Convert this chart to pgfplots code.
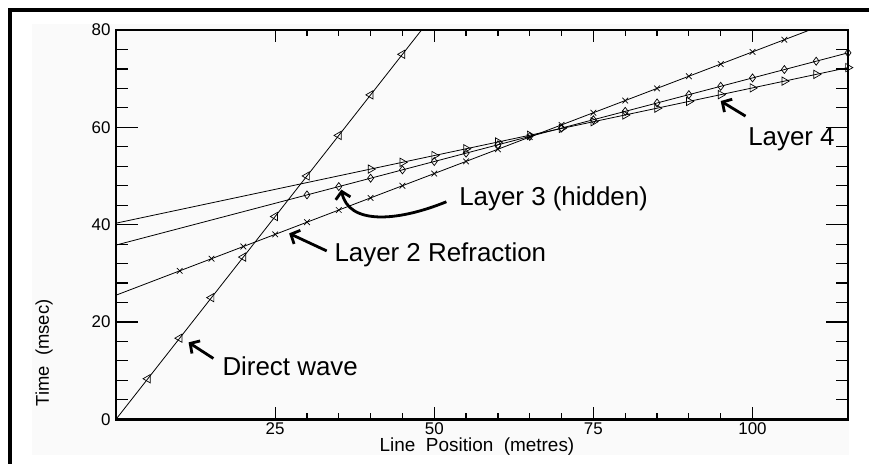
\documentclass[border=0pt]{standalone}
\usepackage{pgfplots}
\pgfplotsset{compat=1.18}
\usepackage{fontspec}
\setmainfont{Liberation Sans}
\usetikzlibrary{arrows.meta}
\begin{document}
\begin{tikzpicture}[x=1bp,y=1bp]
\path[use as bounding box] (0,0) rectangle (869,464);
\fill[black!2] (32,9) rectangle (849,440);
\draw[line width=3.5bp] (10,0) -- (10,454) -- (869,454);
\begin{axis}[
  at={(116bp,44.7bp)}, anchor=south west,
  scale only axis, width=732bp, height=389.3bp,
  xmin=0, xmax=115, ymin=0, ymax=80,
  axis line style={line width=2.5bp},
  xtick={25,50,75,100}, ytick={0,20,40,60,80},
  minor x tick num=4, minor y tick num=4,
  tick align=inside,
  tick style={black, line width=1.2bp},
  major tick length=22bp, minor tick length=12bp,
  xtick style={/pgfplots/major tick length=12bp, /pgfplots/minor tick length=6bp},
  tick label style={font=\fontsize{17}{17}\selectfont},
  /pgf/number format/assume math mode=true,
  yticklabel style={xshift=-2bp},
  xticklabel style={yshift=0bp},
  clip=true,
]
% Direct wave
\addplot[black, line width=0.8bp, no marks] coordinates {(0,0) (50,83.333)};
\addplot[black, only marks, mark=triangle, mark size=4.8bp, mark options={rotate=90, line width=0.7bp}] coordinates {
(5,8.333) (10,16.667) (15,25) (20,33.333) (25,41.667) (30,50) (35,58.333) (40,66.667) (45,75)};
% Layer 2
\addplot[black, line width=0.8bp, no marks] coordinates {(0,25.5) (115,83)};
\addplot[black, only marks, mark=x, mark size=4bp, mark options={line width=0.7bp}] coordinates {
(10,30.5) (15,33) (20,35.5) (25,38) (30,40.5) (35,43) (40,45.5) (45,48) (50,50.5) (55,53)
(60,55.5) (65,58) (70,60.5) (75,63) (80,65.5) (85,68) (90,70.5) (95,73) (100,75.5) (105,78)};
% Layer 3
\addplot[black, line width=0.8bp, no marks] coordinates {(0,35.8) (115,75.30)};
\addplot[black, only marks, mark=diamond, mark size=4bp, mark options={line width=0.7bp}] coordinates {
(30,46.11) (35,47.82) (40,49.54) (45,51.26) (50,52.98) (55,54.69) (60,56.41) (65,58.13) (70,59.85)
(75,61.56) (80,63.28) (85,65.00) (90,66.72) (95,68.43) (100,70.15) (105,71.87) (110,73.59) (115,75.30)};
% Layer 4
\addplot[black, line width=0.8bp, no marks] coordinates {(0,40.3) (115,72.27)};
\addplot[black, only marks, mark=triangle, mark size=4.8bp, mark options={rotate=-90, line width=0.7bp}] coordinates {
(40,51.42) (45,52.81) (50,54.20) (55,55.59) (60,56.98) (65,58.37) (70,59.76) (75,61.15)
(80,62.54) (85,63.93) (90,65.32) (95,66.71) (100,68.10) (105,69.49) (110,70.88) (115,72.27)};
% annotations
\node[anchor=base west, inner sep=0pt, font=\fontsize{26}{26}\selectfont] at (axis cs:16.7,9.1) {Direct wave};
\node[anchor=base west, inner sep=0pt, font=\fontsize{26}{26}\selectfont] at (axis cs:34.3,32.4) {Layer 2 Refraction};
\node[anchor=base west, inner sep=0pt, font=\fontsize{26}{26}\selectfont] at (axis cs:53.9,44.0) {Layer 3 (hidden)};
\node[anchor=base west, inner sep=0pt, font=\fontsize{26}{26}\selectfont] at (axis cs:99.3,56.2) {Layer 4};
\draw[line width=2.8bp, -{Straight Barb[length=7bp,width=15bp]}] (axis cs:15.3,12.5) -- (axis cs:11.4,15.8);
\draw[line width=2.8bp, -{Straight Barb[length=7bp,width=15bp]}] (axis cs:33.1,34.6) -- (axis cs:27.2,38.2);
\draw[line width=2.8bp, -{Straight Barb[length=7bp,width=15bp]}] (axis cs:98.9,62.3) -- (axis cs:95.0,65.4);
\draw[line width=2.8bp, -{Straight Barb[length=7bp,width=15bp]}] (axis cs:51.9,44.7) .. controls (axis cs:44,40.5) and (axis cs:36.5,40) .. (axis cs:35.4,47.2);
\end{axis}
\node[anchor=base, inner sep=0pt, font=\fontsize{19}{19}\selectfont] at (477,12) {Line\ \ Position\ \ (metres)};
\node[rotate=90, anchor=center, inner sep=0pt, font=\fontsize{18.5}{18.5}\selectfont] at (44,111) {Time\ \ (msec)};
\end{tikzpicture}
\end{document}
